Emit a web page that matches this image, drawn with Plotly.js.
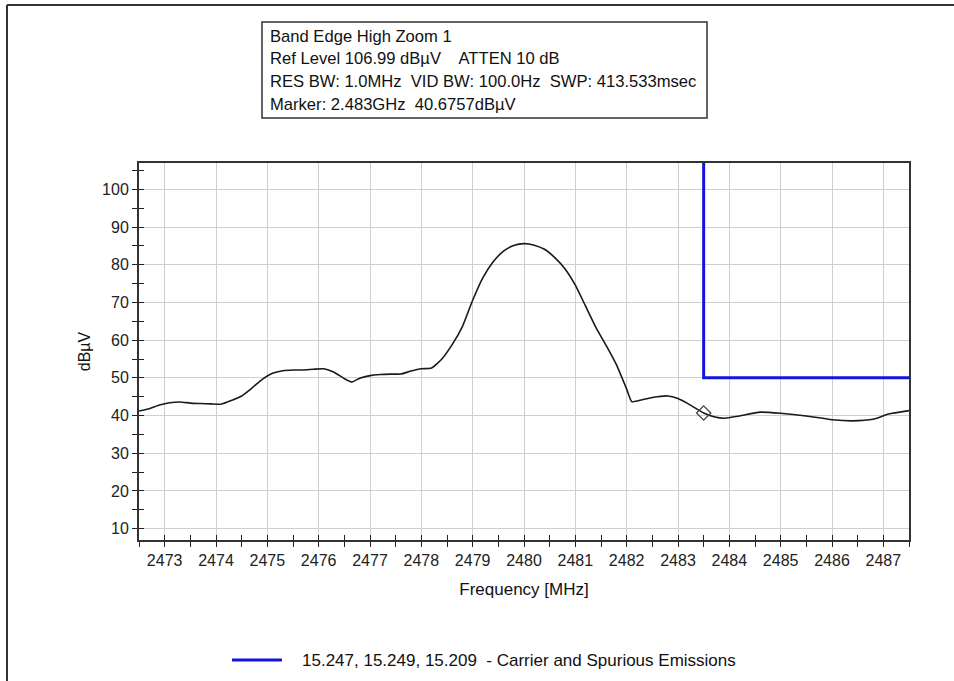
<!DOCTYPE html>
<html>
<head>
<meta charset="utf-8">
<script src="https://cdn.plot.ly/plotly-3.0.1.min.js"></script>
<style>html,body{margin:0;padding:0;background:#fff;}#chart{width:954px;height:681px;}</style>
</head>
<body>
<div id="chart"></div>
<script>
// Measured trace (Frequency MHz, level dBuV)
const freqMHz = [2472.5,2472.7,2472.9,2473.1,2473.3,2473.5,2473.7,2473.9,2474.1,2474.3,2474.5,2474.7,2474.9,2475.1,2475.3,2475.5,2475.7,2475.9,2476.1,2476.3,2476.5,2476.65,2476.8,2477.0,2477.2,2477.4,2477.6,2477.8,2478.0,2478.2,2478.4,2478.6,2478.8,2479.0,2479.2,2479.4,2479.6,2479.8,2480.0,2480.2,2480.4,2480.6,2480.8,2481.0,2481.2,2481.4,2481.6,2481.8,2482.0,2482.1,2482.3,2482.5,2482.8,2483.0,2483.2,2483.5,2483.7,2483.9,2484.2,2484.6,2485.0,2485.5,2486.0,2486.4,2486.8,2487.1,2487.5];
const levelDbuV = [41.2,41.8,42.8,43.4,43.6,43.3,43.2,43.1,43.0,44.0,45.2,47.3,49.6,51.2,51.9,52.1,52.1,52.3,52.4,51.5,49.8,48.9,49.9,50.6,50.9,51.0,51.0,51.8,52.4,52.6,55.0,58.8,63.6,70.6,76.6,80.8,83.6,85.1,85.6,85.2,84.1,81.9,78.9,74.6,69.0,63.4,58.6,53.5,47.0,43.7,44.2,44.8,45.2,44.5,43.1,40.7,39.7,39.3,39.9,40.9,40.6,39.9,38.9,38.6,39.0,40.4,41.3];
// Limit line
const limitFreq = [2483.5, 2483.5, 2487.5];
const limitLevel = [106.99, 50, 50];
const limitName = "15.247, 15.249, 15.209  - Carrier and Spurious Emissions";
// Marker
const markerFreq = [2483.5];
const markerLevel = [40.6757];
// Header texts
const headerLines = [
  "Band Edge High Zoom 1",
  "Ref Level 106.99 dBµV    ATTEN 10 dB",
  "RES BW: 1.0MHz  VID BW: 100.0Hz  SWP: 413.533msec",
  "Marker: 2.483GHz  40.6757dBµV"
];
const xRange = [2472.5, 2487.5];
const yRange = [6.99, 106.99];

const W = 954, H = 681, L = 139, R = 909, T = 163, B = 540;
const px = x => (x - L) / (R - L);
const py = y => (B - y) / (B - T);

const font = "Liberation Sans, Arial, sans-serif";

const traces = [
  {x: freqMHz, y: levelDbuV, mode: 'lines', line: {color: '#1a1a1a', width: 1.6, shape: 'spline', smoothing: 0.5}, showlegend: false, hoverinfo: 'x+y'},
  {x: limitFreq, y: limitLevel, mode: 'lines', name: limitName, line: {color: '#1414dc', width: 3}, showlegend: false},
  {x: markerFreq, y: markerLevel, mode: 'markers', marker: {symbol: 'diamond-open', size: 11, color: '#444', line: {width: 1.3}}, showlegend: false},
  {x: [xRange[0]], y: [yRange[0]], xaxis: 'x2', yaxis: 'y2', mode: 'markers', marker: {opacity: 0}, showlegend: false, hoverinfo: 'skip'}
];

const annotations = headerLines.map((t, i) => ({
  text: t, xref: 'paper', yref: 'paper', x: px(268), y: py(36 + i * 22.8),
  xanchor: 'left', yanchor: 'middle', showarrow: false,
  font: {family: font, size: 16.6, color: '#111'}
}));
annotations.push({
  text: limitName, xref: 'paper', yref: 'paper', x: px(300), y: py(660),
  xanchor: 'left', yanchor: 'middle', showarrow: false,
  font: {family: font, size: 17, color: '#111'}
});

const shapes = [
  {type: 'rect', xref: 'paper', yref: 'paper', x0: px(262), x1: px(707), y0: py(22), y1: py(118), line: {color: '#333', width: 1.5}, fillcolor: 'rgba(0,0,0,0)'},
  {type: 'line', xref: 'paper', yref: 'paper', x0: px(232), x1: px(282), y0: py(660), y1: py(660), line: {color: '#1414dc', width: 3}},
  {type: 'line', xref: 'paper', yref: 'paper', x0: px(7), x1: px(954), y0: py(5), y1: py(5), line: {color: '#333', width: 2}},
  {type: 'line', xref: 'paper', yref: 'paper', x0: px(7), x1: px(7), y0: py(5), y1: py(681), line: {color: '#333', width: 2}}
];

const layout = {
  width: W, height: H,
  margin: {l: L, r: W - R, t: T, b: H - B, pad: 0},
  paper_bgcolor: '#fff', plot_bgcolor: '#fff',
  showlegend: false,
  font: {family: font, color: '#222'},
  xaxis: {
    range: xRange, tick0: 2473, dtick: 1, ticks: 'outside', ticklen: 5, tickwidth: 1, tickcolor: '#222',
    minor: {dtick: 0.5, tick0: 2472.5, ticks: 'outside', ticklen: 5, tickcolor: '#222', showgrid: false},
    showgrid: true, gridcolor: '#cfcfcf', gridwidth: 1,
    showline: true, mirror: true, linecolor: '#333', linewidth: 2, zeroline: false,
    tickfont: {family: font, size: 16, color: '#222'},
    title: {text: 'Frequency [MHz]', font: {family: font, size: 17, color: '#111'}, standoff: 15}
  },
  yaxis: {
    range: yRange, tick0: 0, dtick: 10, ticks: 'outside', ticklen: 5, tickwidth: 1, tickcolor: '#222',
    minor: {dtick: 5, tick0: 0, ticks: 'outside', ticklen: 5, tickcolor: '#222', showgrid: false},
    showgrid: true, gridcolor: '#cfcfcf', gridwidth: 1,
    showline: true, mirror: true, linecolor: '#333', linewidth: 2, zeroline: false,
    tickfont: {family: font, size: 16, color: '#222'},
    title: {text: 'dBµV', font: {family: font, size: 16, color: '#111'}, standoff: 7}
  },
  xaxis2: {
    overlaying: 'x', anchor: 'y2', range: xRange, tick0: 2473, dtick: 1, ticks: 'inside', ticklen: 5, tickcolor: '#222',
    minor: {dtick: 0.5, tick0: 2472.5, ticks: 'inside', ticklen: 5, tickcolor: '#222'},
    showticklabels: false, showgrid: false, zeroline: false, side: 'bottom'
  },
  yaxis2: {
    overlaying: 'y', anchor: 'x2', range: yRange, tick0: 0, dtick: 10, ticks: 'inside', ticklen: 5, tickcolor: '#222',
    minor: {dtick: 5, tick0: 0, ticks: 'inside', ticklen: 5, tickcolor: '#222'},
    showticklabels: false, showgrid: false, zeroline: false, side: 'left'
  },
  annotations: annotations,
  shapes: shapes
};

Plotly.newPlot('chart', traces, layout, {staticPlot: true, displayModeBar: false});
</script>
</body>
</html>
